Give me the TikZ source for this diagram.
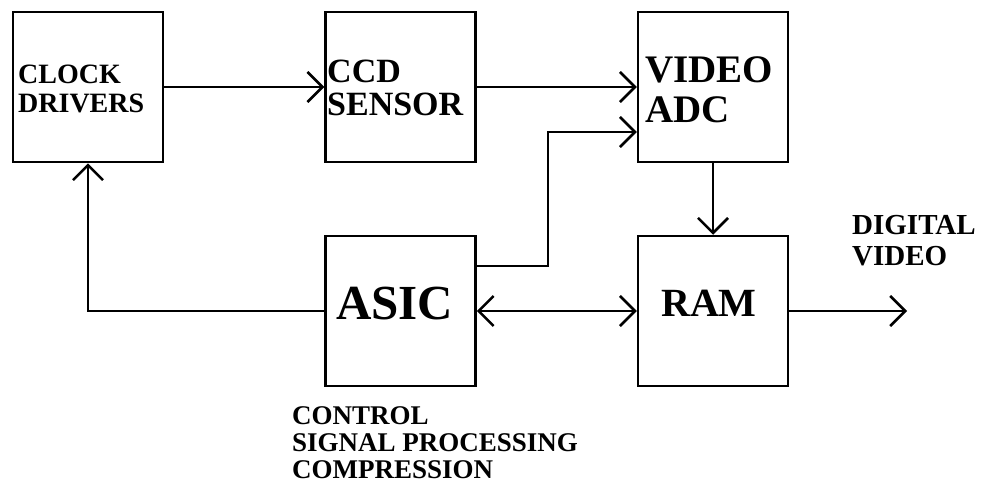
\documentclass[tikz,border=0pt]{standalone}
\usepackage{fontspec}
\setmainfont{Liberation Serif}
\usetikzlibrary{arrows.meta, positioning}

\begin{document}
\begin{tikzpicture}[
  x=1pt, y=-1pt,
  arrow/.style={-{Straight Barb[length=15pt, width=30pt]}, line width=2.5pt},
  darrow/.style={{Straight Barb[length=15pt, width=30pt]}-{Straight Barb[length=15pt, width=30pt]}, line width=2.5pt},
  block/.style={rectangle, draw, line width=2.5pt, minimum width=150pt, minimum height=150pt, inner sep=0pt},
  txt/.style={anchor=base west, align=left, inner sep=0pt}
]
\useasboundingbox (0,0) rectangle (983,482);
\node[block] (clock) at (88,87) {};
\node[block] (ccd) at (400.5,87) {};
\node[block] (adc) at (713,87) {};
\node[block] (asic) at (400.5,311) {};
\node[block] (ram) at (713,311) {};
\node[txt, font=\bfseries\fontsize{28}{29}\selectfont] (clocktxt) at (18,112) {CLOCK\\DRIVERS};
\node[txt, font=\bfseries\fontsize{34}{33}\selectfont] (ccdtxt) at (327,115) {CCD\\SENSOR};
\node[txt, font=\bfseries\fontsize{39}{40}\selectfont] (adctxt) at (645,122) {VIDEO\\ADC};
\node[txt, font=\bfseries\fontsize{49}{50}\selectfont] (asictxt) at (336,319) {ASIC};
\node[txt, font=\bfseries\fontsize{40}{40}\selectfont] (ramtxt) at (661,316) {RAM};
\node[txt, font=\bfseries\fontsize{29}{31}\selectfont] (dvtxt) at (852,265) {DIGITAL\\VIDEO};
\node[txt, font=\bfseries\fontsize{27}{27}\selectfont] (asicnote) at (292,478) {CONTROL\\SIGNAL PROCESSING\\COMPRESSION};
\coordinate (joint) at (548,132);
\coordinate (dvout) at (907,311);
\draw[arrow] (clock.east) -- (ccd.west);
\draw[arrow] (ccd.east) -- (adc.west);
\draw[arrow] ([yshift=45pt]asic.east) -| (joint) -- ([yshift=-45pt]adc.west);
\draw[arrow] (adc.south) -- (ram.north);
\draw[darrow] (asic.east) -- (ram.west);
\draw[arrow] (ram.east) -- (dvout);
\draw[arrow] (asic.west) -| (clock.south);
\end{tikzpicture}
\end{document}
